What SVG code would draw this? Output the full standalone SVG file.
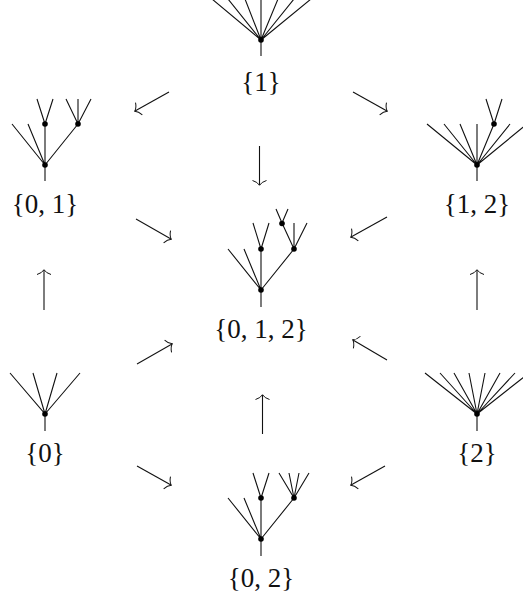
<svg xmlns="http://www.w3.org/2000/svg" width="523" height="598" viewBox="0 0 523 598">
<style>
.e{stroke:#111;stroke-width:1.1;fill:none;stroke-linecap:butt}
.a{stroke:#111;stroke-width:1.1;fill:none;marker-end:url(#h)}
.d{fill:#000;stroke:none}
text{font-family:"Liberation Serif","Times New Roman",serif;font-size:27px;fill:#111;text-anchor:middle}
</style>
<defs>
<marker id="h" markerUnits="userSpaceOnUse" markerWidth="16" markerHeight="18" refX="10" refY="8" orient="auto" overflow="visible">
<path d="M5.500,1 Q7,6 10.300,8 Q7,10 5.500,15" fill="none" stroke="#111" stroke-width="1"/>
</marker>
</defs>
<rect width="523" height="598" fill="#fff"/>
<g id="connectors">
<path class="a" d="M169,92L135,111"/>
<path class="a" d="M353,92L387,111"/>
<path class="a" d="M259.500,146V185"/>
<path class="a" d="M136,219L171,239"/>
<path class="a" d="M387,217L351,237"/>
<path class="a" d="M44,310V270"/>
<path class="a" d="M477,310V270"/>
<path class="a" d="M137,364L172,344"/>
<path class="a" d="M387,360L353,340"/>
<path class="a" d="M262.500,434V395"/>
<path class="a" d="M137,466L171,485"/>
<path class="a" d="M385,466L351,485"/>
</g>
<g id="n1">
<path class="e" d="M261,56V-1M261,40L212,-1M261,40L228,-1M261,40L245,-1M261,40L278,-1M261,40L294,-1M261,40L311,-1"/>
<circle class="d" cx="261" cy="40" r="2.800"/>
<text x="261" y="91">{1}</text>
</g>
<g id="n01">
<path class="e" d="M45,181V124M45,165L12,124M45,165L28,124M45,165L78,124M45,124L37,99M45,124L53,99M78,124L66,99M78,124V99M78,124L91,99"/>
<circle class="d" cx="45" cy="165" r="2.800"/><circle class="d" cx="45" cy="124" r="2.800"/><circle class="d" cx="78" cy="124" r="2.800"/>
<text x="45" y="213">{0, 1}</text>
</g>
<g id="n12">
<path class="e" d="M477,181V124M477,165L427,124M477,165L444,124M477,165L460,124M477,165L494,124M477,165L510,124M477,165L527,124M494,124L486,99M494,124L502,99"/>
<circle class="d" cx="477" cy="165" r="2.800"/><circle class="d" cx="494" cy="124" r="2.800"/>
<text x="477" y="213">{1, 2}</text>
</g>
<g id="n012">
<path class="e" d="M261,307V249M261,290L228,249M261,290L244,249M261,290L294,249M261,249L253,223M261,249L269,223M294,249V223M294,249L307,223M294,249L282,223M282,223L276,209M282,223L288,209"/>
<circle class="d" cx="261" cy="290" r="2.800"/><circle class="d" cx="261" cy="249" r="2.800"/><circle class="d" cx="294" cy="249" r="2.800"/><circle class="d" cx="282" cy="223.500" r="2.800"/>
<text x="261" y="338">{0, 1, 2}</text>
</g>
<g id="n0">
<path class="e" d="M45,431V414L10,373M45,414L33,373M45,414L57,373M45,414L80,373"/>
<circle class="d" cx="45" cy="414" r="2.800"/>
<text x="45" y="462">{0}</text>
</g>
<g id="n2">
<path class="e" d="M477,431V414M477,414L425,373M477,414L440,373M477,414L454,373M477,414L469,373M477,414L485,373M477,414L500,373M477,414L515,373M477,414L529,373"/>
<circle class="d" cx="477" cy="414" r="2.800"/>
<text x="477" y="462">{2}</text>
</g>
<g id="n02">
<path class="e" d="M261,556V498M261,539L228,498M261,539L244,498M261,539L294,498M261,498L253,473M261,498L269,473M294,498L279,473M294,498L289,473M294,498L299,473M294,498L309,473"/>
<circle class="d" cx="261" cy="539" r="2.800"/><circle class="d" cx="261" cy="498" r="2.800"/><circle class="d" cx="294" cy="498" r="2.800"/>
<text x="261" y="587">{0, 2}</text>
</g>
</svg>
